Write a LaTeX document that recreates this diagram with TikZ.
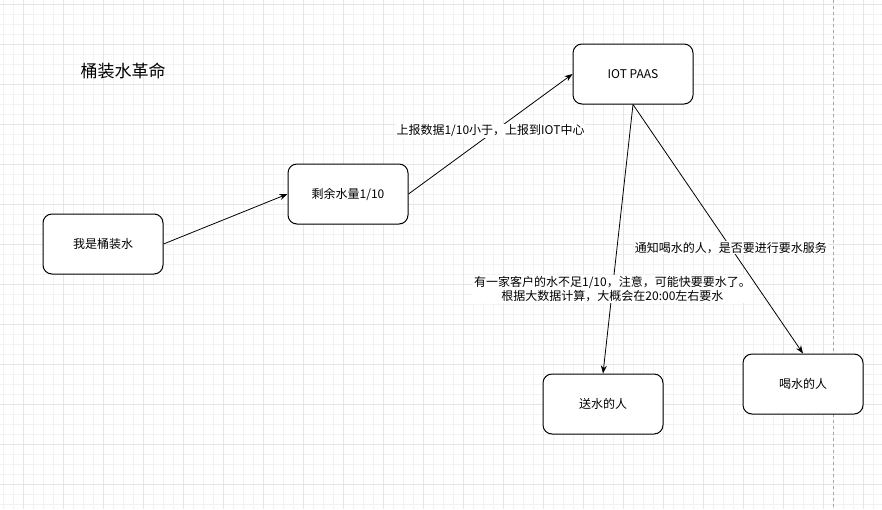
\documentclass[tikz,border=0pt]{standalone}
\usepackage{fontspec}
\setmainfont{Noto Sans CJK SC}
\usetikzlibrary{arrows.meta}

\begin{document}
\begin{tikzpicture}[x=1pt,y=-1pt,
    box/.style={draw,line width=1pt,rounded corners=9pt,fill=white,
      minimum width=120pt,minimum height=60pt,font=\fontsize{12}{14}\selectfont},
    flow/.style={line width=0.8pt,-{Stealth[length=8pt,width=6pt]}},
    note/.style={fill=white,inner sep=1pt,align=center,
      font=\fontsize{12}{14}\selectfont}]
  % background paper with grid
  \useasboundingbox (0,0) rectangle (882,509);
  \fill[white] (0,0) rectangle (882,509);
  \foreach \x in {3,13,...,873}
    \draw[black!5,line width=0.6pt] (\x,0) -- (\x,509);
  \foreach \y in {4,14,...,504}
    \draw[black!5,line width=0.6pt] (0,\y) -- (882,\y);
  \foreach \x in {23,63,...,863}
    \draw[black!10,line width=0.7pt] (\x,0) -- (\x,509);
  \foreach \y in {4,44,...,484}
    \draw[black!10,line width=0.7pt] (0,\y) -- (882,\y);
  \draw[black!35,dashed,line width=0.7pt] (833,0) -- (833,509);

  \node[font=\fontsize{17}{20}\selectfont] (title) at (123,71) {桶装水革命};

  \node[box] (bucket) at (103,244) {我是桶装水};
  \node[box] (remain) at (348,194) {剩余水量1/10};
  \node[box] (iot) at (633,74) {IOT PAAS};
  \node[box] (courier) at (603,404) {送水的人};
  \node[box] (drinker) at (803,384) {喝水的人};

  \draw[flow] (bucket.east) -- (remain.west);
  \draw[flow] (remain.east) -- node[note,yshift=3pt] {上报数据1/10小于，上报到IOT中心} (iot.west);
  \draw[flow] (iot.south) -- node[note,pos=0.685]
    {有一家客户的水不足1/10，注意，可能快要要水了。\\根据大数据计算，大概会在20:00左右要水} (courier.north);
  \draw[flow] (iot.south) -- node[note,pos=0.575] {通知喝水的人，是否要进行要水服务} (drinker.north);
\end{tikzpicture}
\end{document}
